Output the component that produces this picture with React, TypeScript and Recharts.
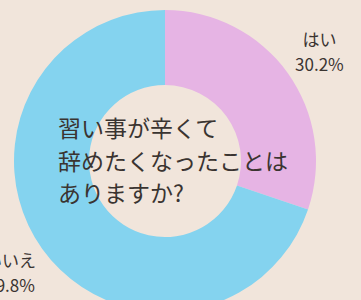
import React from 'react';
import { PieChart, Pie, Cell, Label } from 'recharts';

const categories = ['はい', 'いいえ'];
const values = [30.2, 69.8];
const valueLabels = ['30.2%', '69.8%'];
const colors = ['#e6b4e4', '#84d3ef'];
const questionLines = ['習い事が辛くて', '辞めたくなったことは', 'ありますか?'];

const data = categories.map((name, i) => ({ name, value: values[i], label: valueLabels[i] }));

const FONT = '"Noto Sans CJK JP", "Noto Sans", sans-serif';
const TEXT = '#3a3431';
const RADIAN = Math.PI / 180;

const renderLabel = (props: any) => {
  const { cx, cy, midAngle, outerRadius, index } = props;
  const r = outerRadius + 39;
  const x = cx + r * Math.cos(-midAngle * RADIAN);
  const y = cy + r * Math.sin(-midAngle * RADIAN);
  return (
    <text x={x} y={y} textAnchor="middle" fill={TEXT} fontFamily={FONT} fontSize={17}>
      <tspan x={x} dy={-12} dominantBaseline="central">{data[index].name}</tspan>
      <tspan x={x} dy={25} dominantBaseline="central">{data[index].label}</tspan>
    </text>
  );
};

const renderCenter = (props: any) => {
  const vb = props.viewBox || {};
  const cx = vb.cx ?? 165;
  const cy = vb.cy ?? 161;
  const x = cx - 107;
  return (
    <text fill={TEXT} fontFamily={FONT} fontSize={23}>
      {questionLines.map((l, i) => (
        <tspan key={i} x={x} y={cy - 34 + i * 32.5} dominantBaseline="central">{l}</tspan>
      ))}
    </text>
  );
};

export default function App() {
  return (
    <div style={{ position: 'absolute', left: 0, top: 0, width: 361, height: 300, background: '#f1e5db', overflow: 'hidden' }}>
      <PieChart width={361} height={300} margin={{ top: 0, right: 0, bottom: 0, left: 0 }}>
        <Pie
          data={data}
          dataKey="value"
          nameKey="name"
          cx={165}
          cy={161}
          innerRadius={76}
          outerRadius={151}
          startAngle={90}
          endAngle={-270}
          stroke="none"
          labelLine={false}
          label={renderLabel}
          isAnimationActive={false}
        >
          {data.map((d, i) => (
            <Cell key={d.name} fill={colors[i]} />
          ))}
          <Label position="center" content={renderCenter} />
        </Pie>
      </PieChart>
    </div>
  );
}
